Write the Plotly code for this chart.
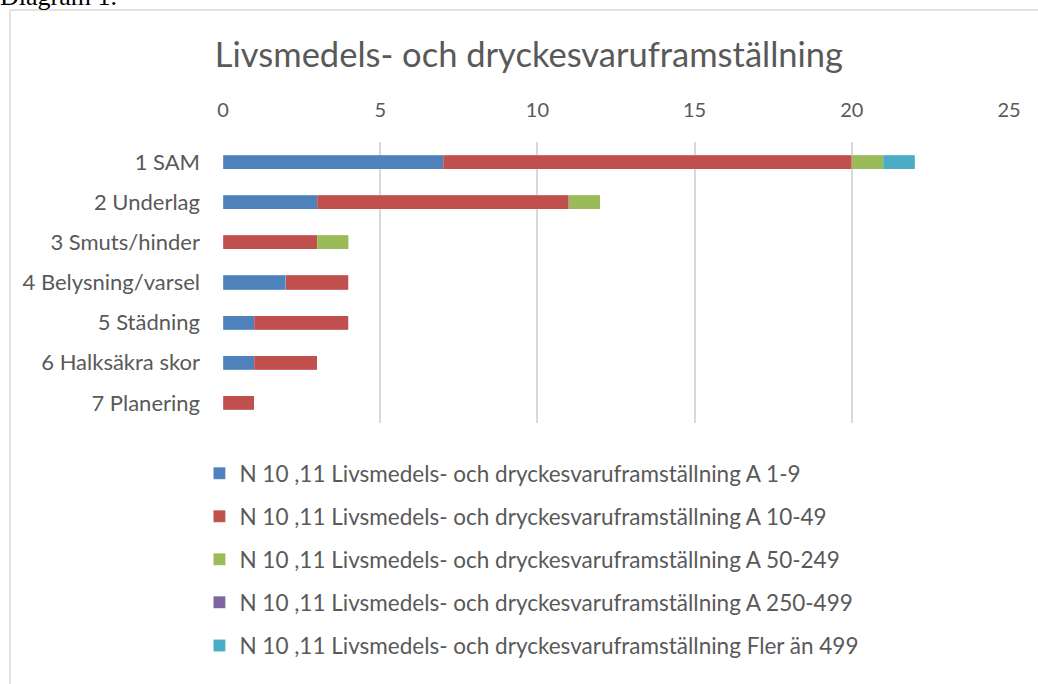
import plotly.graph_objects as go

categories = ["1 SAM", "2 Underlag", "3 Smuts/hinder", "4 Belysning/varsel",
              "5 Städning", "6 Halksäkra skor", "7 Planering"]
series_names = [
    "N 10 ,11 Livsmedels- och dryckesvaruframställning A 1-9",
    "N 10 ,11 Livsmedels- och dryckesvaruframställning A 10-49",
    "N 10 ,11 Livsmedels- och dryckesvaruframställning A 50-249",
    "N 10 ,11 Livsmedels- och dryckesvaruframställning A 250-499",
    "N 10 ,11 Livsmedels- och dryckesvaruframställning Fler än 499",
]
a_1_9 = [7, 3, 0, 2, 1, 1, 0]
a_10_49 = [13, 8, 3, 2, 3, 2, 1]
a_50_249 = [1, 1, 1, 0, 0, 0, 0]
a_250_499 = [0, 0, 0, 0, 0, 0, 0]
fler_an_499 = [1, 0, 0, 0, 0, 0, 0]
tick_vals = [0, 5, 10, 15, 20, 25]

colors = ["#4F81BD", "#C0504D", "#9BBB59", "#8064A2", "#4BACC6"]
values = [a_1_9, a_10_49, a_50_249, a_250_499, fler_an_499]

FONT = "Lato"
fig = go.Figure()
for i, (name, vals) in enumerate(zip(series_names, values)):
    fig.add_trace(go.Bar(
        y=categories, x=vals, name=name, orientation="h",
        marker=dict(color=colors[i], line=dict(color="rgba(255,255,255,0.35)", width=0.5)),
        legendgroup=f"g{i}", width=0.35,
    ))

fig.update_layout(
    barmode="stack",
    width=1038, height=684,
    paper_bgcolor="white", plot_bgcolor="white",
    margin=dict(l=223, r=29, t=142, b=261, autoexpand=False),
    font=dict(family=FONT, color="#595959", size=22),
    title=dict(text="Livsmedels- och dryckesvaruframställning", x=0.5096, xref="container",
               xanchor="center", y=1 - 55 / 684, yanchor="middle",
               font=dict(family=FONT, size=34.5, color="#595959")),
    xaxis=dict(side="top", range=[0, 25], tickvals=tick_vals, showgrid=True,
               gridcolor="#D9D9D9", gridwidth=2, zeroline=False, showline=False,
               ticklabelstandoff=20, tickfont=dict(size=20, color="#595959")),
    yaxis=dict(autorange="reversed", showgrid=False, zeroline=False, showline=False,
               ticklabelstandoff=22, tickfont=dict(size=22, color="#595959")),
    legend=dict(orientation="v", x=-0.030, xanchor="left", y=-0.1035, yanchor="top",
                traceorder="grouped", tracegroupgap=10.8, font=dict(size=22.5, color="#595959"),
                itemwidth=30),
    showlegend=True,
)

# chart border (left and top edges visible)
fig.add_shape(type="line", xref="paper", yref="paper",
              x0=(10 - 223) / 786, x1=(10 - 223) / 786,
              y0=(423 - 700) / 281, y1=(423 - 10) / 281,
              line=dict(color="#D9D9D9", width=1.5), layer="below")
fig.add_shape(type="line", xref="paper", yref="paper",
              x0=(10 - 223) / 786, x1=(1040 - 223) / 786,
              y0=(423 - 10) / 281, y1=(423 - 10) / 281,
              line=dict(color="#D9D9D9", width=1.5), layer="below")

fig.add_annotation(text="Diagram 1.", xref="paper", yref="paper",
                   x=(-2 - 223) / 786, xanchor="left", y=(423 - 13) / 281, yanchor="bottom",
                   showarrow=False, font=dict(family="Liberation Serif", size=26, color="black"))

fig.write_html("out.html", config={"displayModeBar": False},
               post_script="document.body.style.margin='0';document.body.style.padding='0';")
